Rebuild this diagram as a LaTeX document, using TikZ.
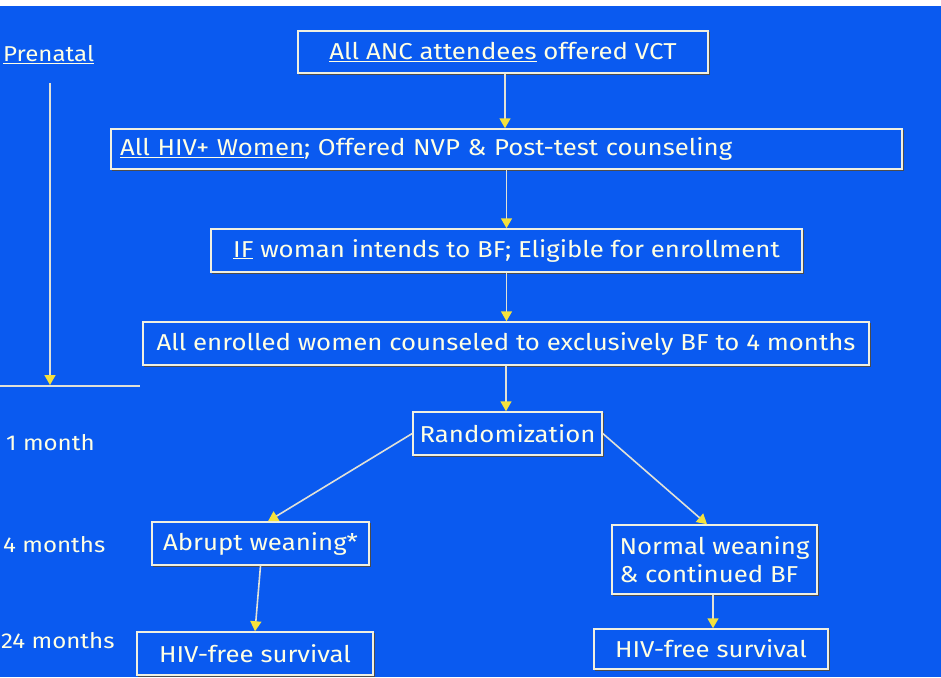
\documentclass[tikz,border=0pt]{standalone}
\usepackage{fontspec}
\setmainfont[FakeStretch=1.12]{Fira Sans}
\usetikzlibrary{arrows.meta}
\definecolor{bg}{RGB}{10,90,240}
\definecolor{txt}{RGB}{255,255,228}
\definecolor{boxline}{RGB}{240,240,225}
\definecolor{linec}{RGB}{225,225,215}
\definecolor{arrowy}{RGB}{245,225,60}
\begin{document}
\begin{tikzpicture}[x=1pt,y=-1pt,
  every node/.style={font=\fontsize{23}{28}\selectfont, text=txt},
  box/.style={draw=boxline, line width=1.5pt, fill=bg, inner sep=0pt,
    preaction={draw=black!70, line width=1.5pt,
      transform canvas={shift={(1.5pt,-1.5pt)}}}},
  arr/.style={draw=linec, line width=1.6pt,
    -{Triangle[length=10pt,width=11pt,color=arrowy]}},
  plain/.style={draw=linec, line width=1.6pt},
  label/.style={inner sep=0pt, font=\fontsize{21.5}{26}\selectfont}]
  % page and background
  \useasboundingbox (0,0) rectangle (941,677);
  \fill[bg] (0,0) rectangle (941,677);
  \fill[white] (0,0) rectangle (941,6);

  % time line on the left
  \node[label, anchor=base west] (prenatal) at (3,62) {\underline{Prenatal}};
  \coordinate (t0) at (50,83);
  \coordinate (t1) at (50,385);
  \coordinate (h0) at (0,386);
  \coordinate (h1) at (140,386);
  \draw[arr] (t0) -- (t1);
  \draw[plain] (h0) -- (h1);
  \node[label, anchor=base west] (m1) at (6,450) {1 month};
  \node[label, anchor=base west] (m4) at (3,552) {4 months};
  \node[label, anchor=base west] (m24) at (1,648) {24 months};

  % flow boxes
  \node[box, minimum width=410pt, minimum height=42pt] (b1) at (503,52)
    {\underline{All ANC attendees} offered VCT};
  \node[box, text width=773pt, inner xsep=9pt, align=left, minimum height=40pt] (b2) at (506.5,149)
    {\underline{All HIV+ Women}; Offered NVP \& Post-test counseling};
  \node[box, minimum width=591pt, minimum height=43pt] (b3) at (506.5,250.5)
    {\underline{IF} woman intends to BF; Eligible for enrollment};
  \node[box, minimum width=726pt, minimum height=43pt] (b4) at (506,343.5)
    {All enrolled women counseled to exclusively BF to 4 months};
  \node[box, minimum width=189pt, minimum height=43pt] (rand) at (507.5,433.5)
    {Randomization};
  \node[box, minimum width=217pt, minimum height=43pt] (abrupt) at (260.5,543.5)
    {Abrupt weaning*};
  \node[box, minimum width=205pt, minimum height=69pt, align=left] (normal) at (714.5,559.5)
    {Normal weaning\\\& continued BF};
  \node[box, minimum width=236pt, minimum height=43pt] (hiv1) at (255,653.5)
    {HIV-free survival};
  \node[box, minimum width=234pt, minimum height=40pt] (hiv2) at (711,649)
    {HIV-free survival};

  % connectors
  \draw[arr] ([xshift=2pt]b1.south) -- ([xshift=2pt]b1.south |- b2.north);
  \draw[arr] (b2.south) -- (b2.south |- b3.north);
  \draw[arr] (b3.south) -- (b3.south |- b4.north);
  \draw[arr] (b4.south) -- (b4.south |- rand.north);
  \draw[arr] (rand.west) -- ([xshift=7.5pt]abrupt.north);
  \draw[arr] (rand.east) -- ([xshift=-7.5pt]normal.north);
  \draw[arr] (abrupt.south) -- (hiv1.north);
  \draw[arr] ([xshift=-1.5pt]normal.south) -- ([xshift=-1.5pt]normal.south |- hiv2.north);
\end{tikzpicture}
\end{document}
